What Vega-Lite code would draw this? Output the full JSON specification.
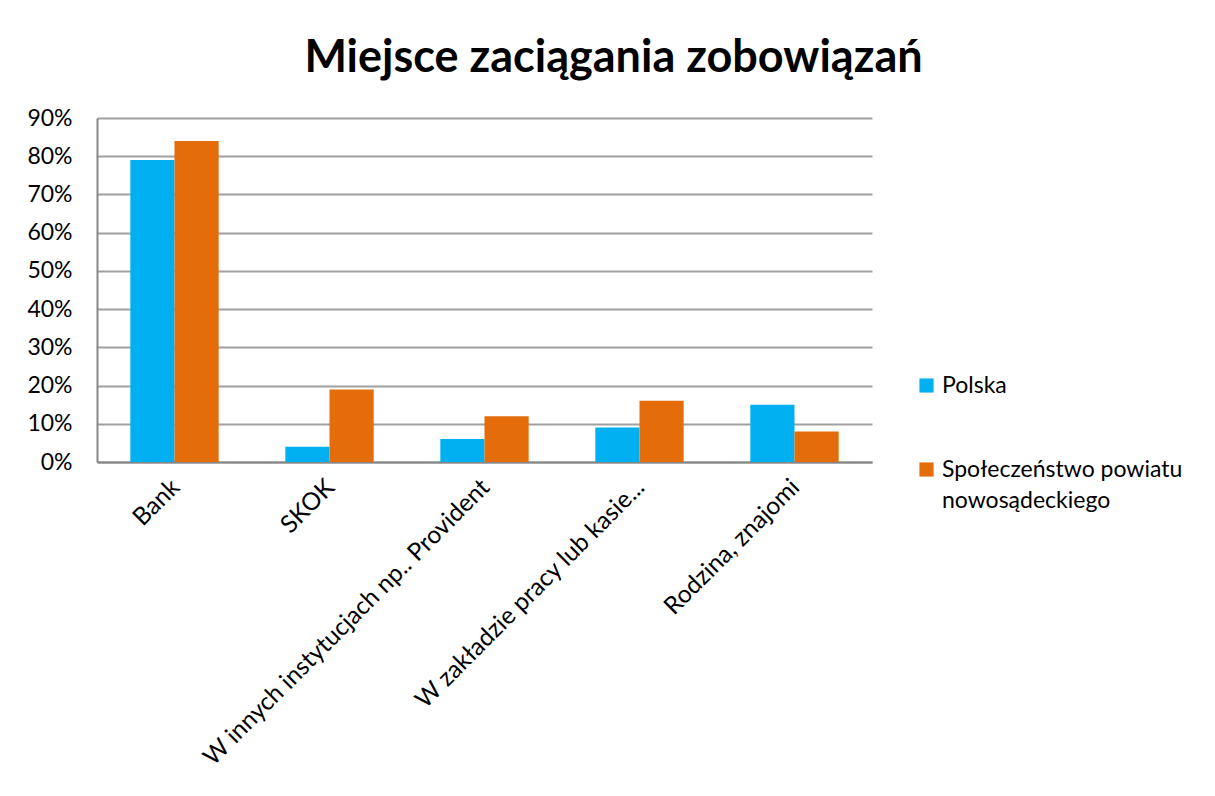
{
  "$schema": "https://vega.github.io/schema/vega-lite/v6.json",
  "width": 775,
  "height": 344,
  "autosize": {"type": "none"},
  "padding": {"left": 97, "top": 118, "right": 343, "bottom": 334},
  "background": "white",
  "title": {
    "text": "Miejsce zaciągania zobowiązań",
    "font": "Lato",
    "fontSize": 45,
    "fontWeight": "bold",
    "color": "#000000",
    "anchor": "middle",
    "dx": 129,
    "offset": 26
  },
  "data": {
    "values": [
      {"kategoria": "Bank", "seria": "Polska", "wartosc": 0.79},
      {"kategoria": "Bank", "seria": "Społeczeństwo powiatu nowosądeckiego", "wartosc": 0.84},
      {"kategoria": "SKOK", "seria": "Polska", "wartosc": 0.04},
      {"kategoria": "SKOK", "seria": "Społeczeństwo powiatu nowosądeckiego", "wartosc": 0.19},
      {"kategoria": "W innych instytucjach np.. Provident", "seria": "Polska", "wartosc": 0.06},
      {"kategoria": "W innych instytucjach np.. Provident", "seria": "Społeczeństwo powiatu nowosądeckiego", "wartosc": 0.12},
      {"kategoria": "W zakładzie pracy lub kasie...", "seria": "Polska", "wartosc": 0.09},
      {"kategoria": "W zakładzie pracy lub kasie...", "seria": "Społeczeństwo powiatu nowosądeckiego", "wartosc": 0.16},
      {"kategoria": "Rodzina, znajomi", "seria": "Polska", "wartosc": 0.15},
      {"kategoria": "Rodzina, znajomi", "seria": "Społeczeństwo powiatu nowosądeckiego", "wartosc": 0.08}
    ]
  },
  "mark": {"type": "bar"},
  "encoding": {
    "x": {
      "field": "kategoria",
      "type": "nominal",
      "sort": null,
      "title": null,
      "scale": {"paddingInner": 0.43, "paddingOuter": 0.215},
      "axis": {
        "labelAngle": -45,
        "labelFont": "Lato",
        "labelFontSize": 24.5,
        "labelColor": "#000000",
        "labelLimit": 600,
        "labelPadding": 13,
        "labelOffset": -7,
        "ticks": false,
        "domainColor": "#868686",
        "domainWidth": 2,
        "grid": false
      }
    },
    "xOffset": {"field": "seria", "type": "nominal"},
    "y": {
      "field": "wartosc",
      "type": "quantitative",
      "title": null,
      "scale": {"domain": [0, 0.9], "nice": false},
      "axis": {
        "format": ".0%",
        "values": [0, 0.1, 0.2, 0.3, 0.4, 0.5, 0.6, 0.7, 0.8, 0.9],
        "labelFont": "Lato",
        "labelFontSize": 23,
        "labelColor": "#000000",
        "labelPadding": 25,
        "ticks": false,
        "domainColor": "#868686",
        "domainWidth": 2,
        "gridColor": "#a0a0a0",
        "gridWidth": 2
      }
    },
    "color": {
      "field": "seria",
      "type": "nominal",
      "scale": {"domain": ["Polska", "Społeczeństwo powiatu nowosądeckiego"], "range": ["#00B0F0", "#E46C0A"]},
      "legend": {
        "title": null,
        "orient": "none",
        "legendX": 818,
        "legendY": 256,
        "symbolType": "square",
        "symbolSize": 200,
        "symbolStrokeWidth": 0,
        "labelFont": "Lato",
        "labelFontSize": 23,
        "labelColor": "#000000",
        "labelLimit": 400,
        "labelOffset": 4,
        "rowPadding": 60,
        "labelExpr": "datum.label == 'Polska' ? 'Polska' : ['Społeczeństwo powiatu', 'nowosądeckiego']",
        "encode": {
          "labels": {"update": {"lineHeight": {"value": 31}}}
        }
      }
    }
  },
  "config": {
    "view": {"stroke": null},
    "axisY": {"gridOpacity": 1}
  }
}
